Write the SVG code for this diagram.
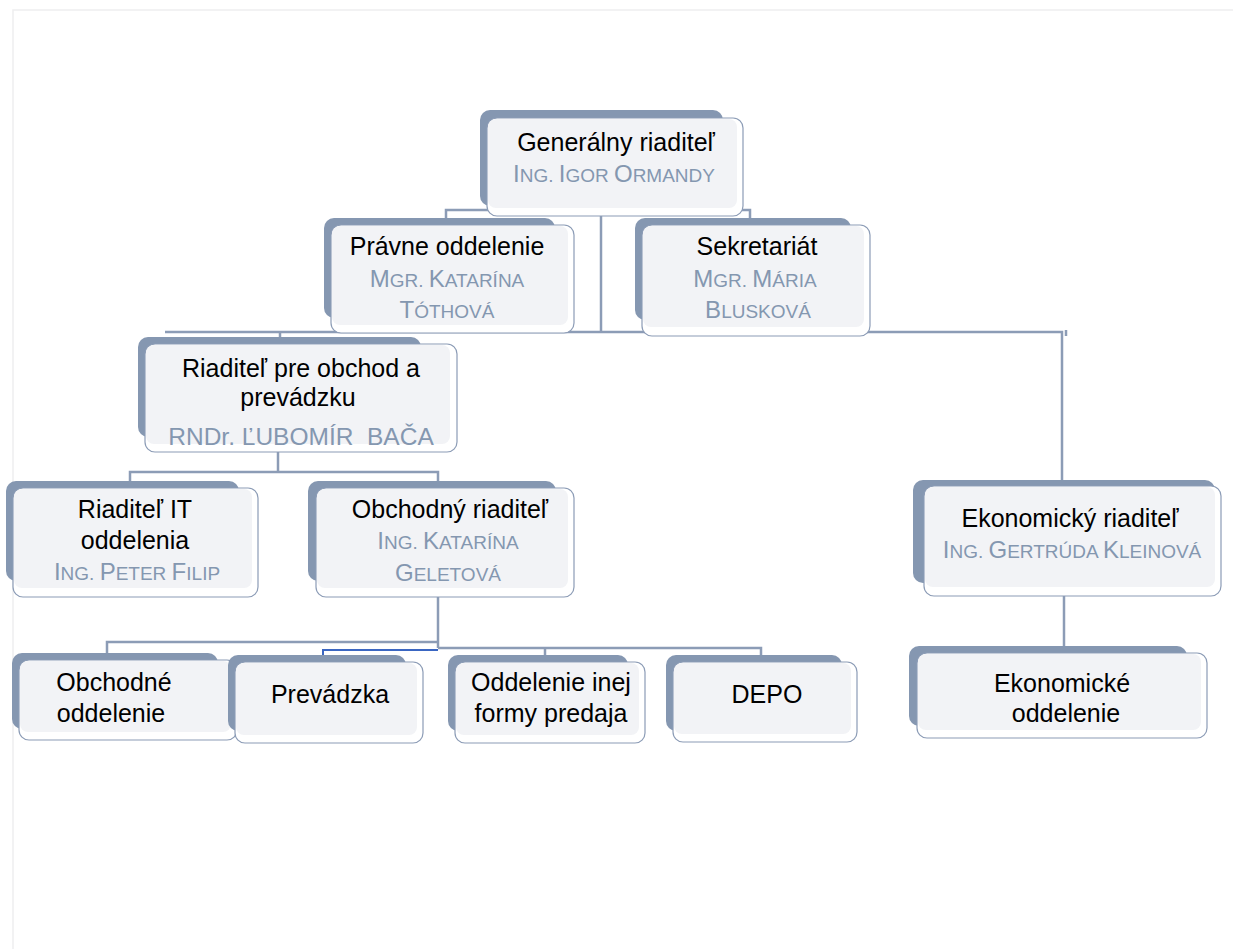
<svg xmlns="http://www.w3.org/2000/svg" width="1233" height="949" viewBox="0 0 1233 949">
<style>
.back{fill:#8597B1}
.front{fill:#ffffff;stroke:#8C9CB6;stroke-width:1.2}
.fill{fill:#F2F3F6}
.t{font-family:"Liberation Sans",Arial,sans-serif;font-size:25px;fill:#000;text-anchor:middle}
.n{font-family:"Liberation Sans",Arial,sans-serif;font-size:19px;fill:#8497B0;text-anchor:middle}
.b{font-size:24px}
.c{fill:none;stroke:#8C9CB6;stroke-width:2.5}
.cb{fill:none;stroke:#3A66C2;stroke-width:2}
</style>
<rect width="1233" height="949" fill="#ffffff"/>
<path d="M13 949 V10 H1233" fill="none" stroke="#EEEEF0" stroke-width="1.5"/>
<g id="connectors">
<path class="c" d="M601 216 V332"/>
<path class="c" d="M446 225 V210 H750 V225"/>
<path class="c" d="M165 332 H1062 V486"/>
<path class="c" d="M280 344 V332"/>
<path class="c" d="M1066 336 V330"/>
<path class="c" d="M278 452 V472"/>
<path class="c" d="M130 488 V472 H438 V488"/>
<path class="c" d="M438 597 V648"/>
<path class="c" d="M107 660 V642 H438"/>
<path class="c" d="M438 648 H761 V662"/>
<path class="c" d="M545 648 V662"/>
<path class="cb" d="M323 662 V650 H438"/>
<path class="c" d="M1064 596 V653"/>
</g>
<g id="n-generalny">
<rect class="back" x="480" y="110" width="243" height="96" rx="10"/>
<rect class="front" x="487" y="118" width="256" height="98" rx="10"/>
<rect class="fill" x="488" y="119" width="249" height="89" rx="8"/>
<text class="t" x="616" y="151">Generálny riaditeľ</text>
<text class="n" x="614" y="182"><tspan class="b">I</tspan>NG. <tspan class="b">I</tspan>GOR <tspan class="b">O</tspan>RMANDY</text>
</g>
<g id="n-pravne">
<rect class="back" x="324" y="218" width="231" height="100" rx="10"/>
<rect class="front" x="331" y="225" width="243" height="108" rx="10"/>
<rect class="fill" x="332" y="226" width="236" height="99" rx="8"/>
<text class="t" x="447" y="255">Právne oddelenie</text>
<text class="n" x="447" y="287"><tspan class="b">M</tspan>GR. <tspan class="b">K</tspan>ATARÍNA</text>
<text class="n" x="447" y="318"><tspan class="b">T</tspan>ÓTHOVÁ</text>
</g>
<g id="n-sekretariat">
<rect class="back" x="635" y="218" width="216" height="102" rx="10"/>
<rect class="front" x="642" y="225" width="228" height="111" rx="10"/>
<rect class="fill" x="643" y="226" width="221" height="101" rx="8"/>
<text class="t" x="757" y="255">Sekretariát</text>
<text class="n" x="755" y="287"><tspan class="b">M</tspan>GR. <tspan class="b">M</tspan>ÁRIA</text>
<text class="n" x="758" y="318"><tspan class="b">B</tspan>LUSKOVÁ</text>
</g>
<g id="n-obchod-prevadzka">
<rect class="back" x="138" y="337" width="283" height="100" rx="10"/>
<rect class="front" x="145" y="344" width="312" height="108" rx="10"/>
<rect class="fill" x="146" y="345" width="304" height="99" rx="8"/>
<text class="t" x="301" y="377">Riaditeľ pre obchod a</text>
<text class="t" x="298" y="406">prevádzku</text>
<text class="t" x="301" y="445" style="fill:#8497B0;white-space:pre;font-size:24.5px">RNDr. ĽUBOMÍR  BAČA</text>
</g>
<g id="n-it">
<rect class="back" x="6" y="481" width="233" height="100" rx="10"/>
<rect class="front" x="13" y="488" width="245" height="109" rx="10"/>
<rect class="fill" x="14" y="489" width="238" height="99" rx="8"/>
<text class="t" x="135" y="518">Riaditeľ IT</text>
<text class="t" x="135" y="549">oddelenia</text>
<text class="n" x="137" y="580"><tspan class="b">I</tspan>NG. <tspan class="b">P</tspan>ETER <tspan class="b">F</tspan>ILIP</text>
</g>
<g id="n-obchodny">
<rect class="back" x="308" y="481" width="248" height="100" rx="10"/>
<rect class="front" x="316" y="488" width="258" height="109" rx="10"/>
<rect class="fill" x="317" y="489" width="251" height="99" rx="8"/>
<text class="t" x="450" y="518">Obchodný riaditeľ</text>
<text class="n" x="448" y="549"><tspan class="b">I</tspan>NG. <tspan class="b">K</tspan>ATARÍNA</text>
<text class="n" x="448" y="581"><tspan class="b">G</tspan>ELETOVÁ</text>
</g>
<g id="n-ekonomicky">
<rect class="back" x="913" y="480" width="302" height="103" rx="10"/>
<rect class="front" x="924" y="486" width="297" height="110" rx="10"/>
<rect class="fill" x="925" y="487" width="290" height="100" rx="8"/>
<text class="t" x="1070" y="527">Ekonomický riaditeľ</text>
<text class="n" x="1072" y="558"><tspan class="b">I</tspan>NG. <tspan class="b">G</tspan>ERTRÚDA <tspan class="b">K</tspan>LEINOVÁ</text>
</g>
<g id="n-obchodne-odd">
<rect class="back" x="12" y="653" width="206" height="76" rx="10"/>
<rect class="front" x="19" y="660" width="218" height="80" rx="10"/>
<rect class="fill" x="20" y="661" width="211" height="71" rx="8"/>
<text class="t" x="114" y="691">Obchodné</text>
<text class="t" x="111" y="722">oddelenie</text>
</g>
<g id="n-prevadzka">
<rect class="back" x="228" y="655" width="178" height="76" rx="10"/>
<rect class="front" x="235" y="662" width="188" height="81" rx="10"/>
<rect class="fill" x="236" y="663" width="181" height="72" rx="8"/>
<text class="t" x="330" y="703">Prevádzka</text>
</g>
<g id="n-ine-formy">
<rect class="back" x="448" y="655" width="180" height="76" rx="10"/>
<rect class="front" x="455" y="662" width="190" height="81" rx="10"/>
<rect class="fill" x="456" y="663" width="183" height="72" rx="8"/>
<text class="t" x="551" y="691">Oddelenie inej</text>
<text class="t" x="551" y="722">formy predaja</text>
</g>
<g id="n-depo">
<rect class="back" x="666" y="655" width="176" height="76" rx="10"/>
<rect class="front" x="673" y="662" width="184" height="80" rx="10"/>
<rect class="fill" x="674" y="663" width="177" height="71" rx="8"/>
<text class="t" x="767" y="703">DEPO</text>
</g>
<g id="n-ekonomicke-odd">
<rect class="back" x="909" y="646" width="278" height="80" rx="10"/>
<rect class="front" x="917" y="653" width="290" height="85" rx="10"/>
<rect class="fill" x="918" y="654" width="283" height="76" rx="8"/>
<text class="t" x="1062" y="692">Ekonomické</text>
<text class="t" x="1066" y="722">oddelenie</text>
</g>
</svg>
